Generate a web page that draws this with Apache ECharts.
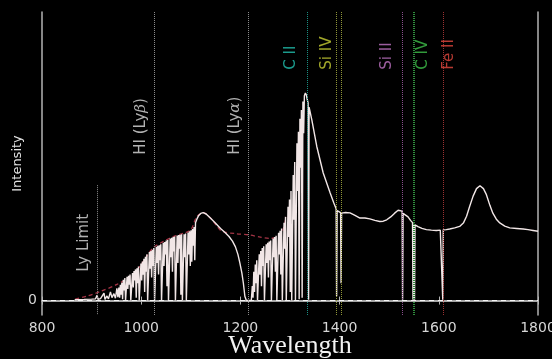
<!DOCTYPE html>
<html>
<head>
<meta charset="utf-8">
<script src="https://cdn.jsdelivr.net/npm/echarts@6/dist/echarts.min.js"></script>
<style>
  html, body { margin: 0; padding: 0; background: #000; }
  #chart { width: 552px; height: 359px; }
</style>
</head>
<body>
<div id="chart"></div>
<script>
// spectrum: [wavelength (Å), intensity], in pieces
const blueWing = [
  [866, 0.03], [885, 0.04], [900, 0.05], [908, 0.06], [911, 0.18], [913, 0.04], [918, 0.07], [922, 0.12],
  [925, 0.26], [927, 0.04], [931, 0.16], [934, 0.06], [938, 0.3], [941, 0.1], [945, 0.24], [948, 0.08],
  [951, 0.42], [953, 0.12]
];
// Lyman beta / Lyman alpha forest below 1110 Å
const forestA = [
  [955, 0.45], [956.5, 0.1], [958, 0.55], [959.5, 0.2], [961, 0.62], [962.5, 0.05], [964, 0.72], [965.5, 0.35],
  [967, 0.78], [968.5, 0.0], [970, 0.0], [971.5, 0.82], [973, 0.4], [974.5, 0.86], [976, 0.55], [977.5, 0.9],
  [979, 0.0], [981, 0.0], [982.5, 0.95], [984, 0.45], [985.5, 1.02], [987, 0.7], [988.5, 1.08], [990, 0.1],
  [991.5, 1.12], [993, 0.6], [994.5, 1.18], [996, 0.0], [998, 0.0], [999.5, 1.28], [1001, 0.7], [1002.5, 1.35],
  [1004, 0.9], [1005.5, 1.45], [1007, 0.3], [1008.5, 1.52], [1010, 1.0], [1011.5, 1.6], [1013, 0.0], [1015, 0.0],
  [1016.5, 1.68], [1018, 1.1], [1019.5, 1.72], [1021, 0.8], [1022.5, 1.76], [1024, 1.2], [1025.5, 1.82], [1027, 0.0],
  [1029, 0.0], [1030.5, 1.86], [1032, 1.3], [1033.5, 1.9], [1035, 0.9], [1036.5, 1.92], [1038, 1.4], [1039.5, 1.95],
  [1041, 0.0], [1043, 0.0], [1044.5, 2.0], [1046, 1.2], [1047.5, 2.03], [1049, 1.6], [1050.5, 2.08], [1052, 0.5],
  [1053.5, 2.1], [1055, 0.0], [1057, 0.0], [1058.5, 2.15], [1060, 1.5], [1061.5, 2.18], [1063, 1.0], [1064.5, 2.2],
  [1066, 1.7], [1067.5, 2.22], [1069, 0.0], [1071, 0.0], [1072.5, 2.25], [1074, 1.3], [1075.5, 2.27], [1077, 1.8],
  [1078.5, 2.28], [1080, 0.2], [1081.5, 2.3], [1083, 0.0], [1085, 0.0], [1086.5, 2.3], [1088, 1.5], [1089.5, 2.32],
  [1091, 0.0], [1093, 0.0], [1094.5, 2.36], [1096, 1.6], [1097.5, 2.4], [1099, 1.2], [1100.5, 2.44], [1102, 1.35],
  [1103.5, 2.48], [1105, 1.9], [1106.5, 2.55], [1108, 1.4], [1109.5, 2.7]
];
// O VI bump and the Lyman alpha trough
const bump = [
  [1113, 2.85], [1116, 2.95], [1120, 3.02], [1125, 3.05], [1131, 3.0], [1140, 2.85], [1149, 2.7], [1160, 2.5],
  [1169, 2.36], [1177, 2.22], [1184, 2.06], [1190, 1.86], [1195, 1.6], [1199, 1.3], [1203, 0.95], [1206, 0.6],
  [1209, 0.15], [1212, 0.0], [1222, 0.0]
];
// forest on the blue side of the 1330 Å peak
const forestB = [
  [1224, 0.5], [1225.5, 0.1], [1227, 1.0], [1228.5, 0.3], [1230, 1.25], [1231.5, 0.6], [1233, 1.4], [1234.5, 0.0],
  [1236.5, 0.0], [1238, 1.6], [1239.5, 0.9], [1241, 1.72], [1242.5, 0.5], [1244, 1.82], [1245.5, 1.2], [1247, 1.88],
  [1248.5, 0.0], [1250.5, 0.0], [1252, 1.95], [1253.5, 1.3], [1255, 2.0], [1256.5, 0.8], [1258, 2.05], [1259.5, 1.4],
  [1261, 2.08], [1262.5, 0.0], [1264.5, 0.0], [1266, 2.15], [1267.5, 1.5], [1269, 2.2], [1270.5, 1.0], [1272, 2.25],
  [1273.5, 0.0], [1275.5, 0.0], [1277, 2.35], [1278.5, 1.6], [1280, 2.42], [1281.5, 0.9], [1283, 2.5], [1284.5, 0.0],
  [1286.5, 0.0], [1288, 2.7], [1289.5, 1.8], [1291, 2.9], [1292.5, 0.0], [1294.5, 0.0], [1296, 3.25], [1297.5, 2.2],
  [1299, 3.5], [1300.5, 0.3], [1302, 3.8], [1303.5, 0.0], [1305, 0.0], [1306.5, 4.35], [1308, 2.8], [1309.5, 4.8],
  [1311, 0.0], [1312.5, 0.0], [1314, 5.45], [1315.5, 3.8], [1317, 5.85], [1318.5, 0.05], [1320, 6.3], [1321.5, 4.6],
  [1323, 6.6], [1324.5, 0.1], [1326, 6.9], [1327.5, 5.8], [1329, 7.1]
];
// emission peak and red side with metal absorption lines
const redSide = [
  [1331, 7.19], [1333, 7.12], [1335, 6.95], [1336.5, 6.85], [1337.5, 0.03], [1338.5, 6.7], [1344, 6.26], [1354, 5.34],
  [1367, 4.42], [1381, 3.73], [1388, 3.4], [1393, 3.18], [1394, 0.15], [1395, 3.12], [1402, 3.05], [1403, 0.6],
  [1404, 3.03], [1412, 3.05], [1421, 3.04], [1431, 2.95], [1441, 2.86], [1451, 2.86], [1461, 2.83], [1471, 2.78],
  [1481, 2.74], [1488, 2.75], [1495, 2.8], [1503, 2.9], [1511, 3.03], [1518, 3.13], [1522, 3.15], [1526, 3.1],
  [1527, 0.03], [1528, 3.02], [1533, 2.96], [1538, 2.9], [1543, 2.78], [1547, 2.7], [1548, 0.03], [1549.5, 2.66],
  [1551, 0.03], [1552, 2.62], [1558, 2.56], [1566, 2.5], [1575, 2.46], [1585, 2.44], [1595, 2.43], [1603, 2.44],
  [1607, 2.45], [1608, 0.03], [1609, 2.45], [1615, 2.46], [1622, 2.48], [1632, 2.52], [1642, 2.57], [1650, 2.7],
  [1656, 2.92], [1662, 3.25], [1669, 3.61], [1676, 3.88], [1683, 3.98], [1690, 3.88], [1696, 3.67], [1703, 3.3],
  [1709, 3.03], [1716, 2.82], [1723, 2.69], [1733, 2.58], [1743, 2.52], [1757, 2.5], [1770, 2.48], [1780, 2.46],
  [1790, 2.43], [1800, 2.4]
];
const spectrum = [].concat(blueWing, forestA, bump, forestB, redSide);

// unabsorbed continuum (red dashed)
const continuum = [
  [867, 0.05], [890, 0.15], [917, 0.31], [950, 0.55], [982, 0.88], [1000, 1.25], [1024, 1.83], [1045, 2.05],
  [1064, 2.21], [1085, 2.33], [1100, 2.45], [1112, 2.9], [1125, 3.05], [1140, 2.85], [1152, 2.6], [1163, 2.4],
  [1190, 2.32], [1216, 2.28], [1240, 2.2], [1260, 2.15], [1275, 2.22], [1286, 2.45], [1292, 2.9]
];

// absorption line markers
const markerNames = ['Ly Limit', 'HI (Lyβ)', 'HI (Lyα)', 'C II', 'Si IV', 'Si IV', 'Si II', 'C IV', 'C IV', 'Fe II'];
const markerWaves = [912, 1026, 1216, 1335, 1394, 1403, 1527, 1548, 1551, 1608];
const markerTops = [4.0, null, null, null, null, null, null, null, null, null];

// label anchors: [wavelength, intensity] at the start of each rotated label
const labelNames = ['Ly Limit', 'HI (Lyβ)', 'HI (Lyα)', 'C II', 'Si IV', 'Si II', 'C IV', 'Fe II'];
const labelWaves = [884, 1000, 1189, 1302, 1375, 1496, 1568, 1621];
const labelLevels = [1.0, 5.05, 5.05, 8.0, 8.0, 8.0, 8.0, 8.0];

const xTicks = [800, 1000, 1200, 1400, 1600, 1800];

const ionColors = {
  'Ly Limit': '#8c8c8c', 'HI (Lyβ)': '#8c8c8c', 'HI (Lyα)': '#8c8c8c',
  'C II': '#1c8f84', 'Si IV': '#8f9637', 'Si II': '#8a4f8d', 'C IV': '#2f8d3c', 'Fe II': '#9c3131'
};
const labelColors = {
  'Ly Limit': '#dedede', 'HI (Lyβ)': '#dedede', 'HI (Lyα)': '#dedede',
  'C II': '#22c2b0', 'Si IV': '#c9d035', 'Si II': '#c274c6', 'C IV': '#3fc24a', 'Fe II': '#e5483f'
};

const frame = '#b3b3b3';

const markerLines = markerNames.map((n, i) => {
  const style = { color: ionColors[n], type: 'dotted', width: 1 };
  if (markerTops[i] != null) {
    return [{ coord: [markerWaves[i], markerTops[i]], lineStyle: style }, { coord: [markerWaves[i], -0.5] }];
  }
  return { xAxis: markerWaves[i], lineStyle: style };
});

const chart = echarts.init(document.getElementById('chart'));
chart.setOption({
  backgroundColor: '#000',
  animation: false,
  grid: { left: 42, right: 14, top: 12, bottom: 44, containLabel: false, outerBoundsMode: 'none' },
  xAxis: [
    {
      type: 'value', min: xTicks[0], max: xTicks[xTicks.length - 1], interval: 200, position: 'bottom',
      axisLine: { lineStyle: { color: frame, width: 1.5 } },
      axisTick: { inside: true, length: 4, lineStyle: { color: frame } },
      axisLabel: { color: '#d6d6d6', fontSize: 14, fontFamily: 'DejaVu Sans', margin: 6, formatter: v => String(v) },
      splitLine: { show: false },
      name: 'Wavelength', nameLocation: 'middle', nameGap: 18, nameMoveOverlap: false,
      nameTextStyle: { color: '#f2f2f2', fontFamily: 'Liberation Serif', fontSize: 26 }
    },
    {
      type: 'value', min: xTicks[0], max: xTicks[xTicks.length - 1], interval: 200, position: 'top',
      axisLine: { lineStyle: { color: frame, width: 1.5 } },
      axisTick: { inside: true, length: 4, lineStyle: { color: frame } },
      axisLabel: { show: false },
      splitLine: { show: false }
    }
  ],
  yAxis: [
    {
      type: 'value', min: -0.5, max: 10, interval: 0.5, position: 'left',
      axisLine: { show: true, lineStyle: { color: frame, width: 1.5 } },
      axisTick: { show: false },
      axisLabel: {
        color: '#d6d6d6', fontSize: 14, fontFamily: 'DejaVu Sans', margin: 5,
        formatter: v => (v === 0 ? '0' : '')
      },
      splitLine: { show: false },
      name: 'Intensity', nameLocation: 'middle', nameGap: 18, nameMoveOverlap: false,
      nameTextStyle: { color: '#e2e2e2', fontFamily: 'DejaVu Sans', fontSize: 13 }
    },
    {
      type: 'value', min: -0.5, max: 10, interval: 0.5, position: 'right',
      axisLine: { show: true, lineStyle: { color: frame, width: 1.5 } },
      axisTick: { show: false },
      axisLabel: { show: false },
      splitLine: { show: false }
    }
  ],
  series: [
    {
      name: 'markers',
      type: 'line',
      data: [],
      silent: true,
      z: 2,
      markLine: {
        silent: true,
        symbol: 'none',
        label: { show: false },
        data: markerLines.concat([
          { yAxis: 0, lineStyle: { color: '#f4f4f4', type: [5, 4], width: 1.2 } }
        ])
      }
    },
    {
      name: 'continuum',
      type: 'line',
      data: continuum,
      showSymbol: false,
      smooth: 0.3,
      z: 3,
      lineStyle: { color: '#a33445', width: 1.3, type: [4, 3] }
    },
    {
      name: 'spectrum',
      type: 'line',
      data: spectrum,
      showSymbol: false,
      z: 4,
      lineStyle: { color: '#f1e6e6', width: 1.4 }
    },
    {
      name: 'labels',
      type: 'scatter',
      symbolSize: 0,
      silent: true,
      z: 5,
      data: labelNames.map((n, i) => ({
        name: n,
        value: [labelWaves[i], labelLevels[i]],
        label: { color: labelColors[n] }
      })),
      label: {
        show: true,
        position: 'inside',
        rotate: 90,
        align: 'left',
        verticalAlign: 'middle',
        fontSize: 15,
        fontFamily: 'DejaVu Sans',
        formatter: p => p.name.replace(/([αβ])/, '{g|$1}'),
        rich: { g: { fontStyle: 'italic', fontSize: 15, fontFamily: 'DejaVu Serif' } }
      }
    }
  ]
});
</script>
</body>
</html>
